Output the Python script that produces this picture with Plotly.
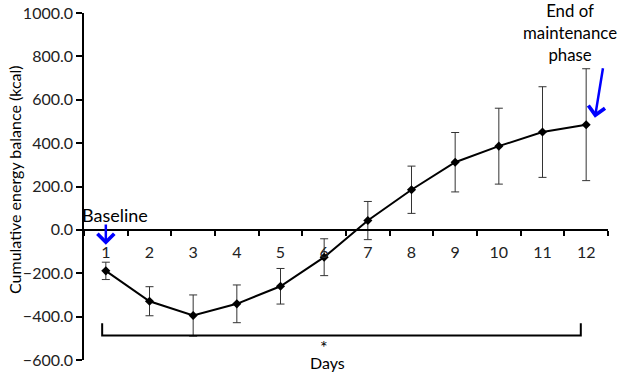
import plotly.graph_objects as go

days = list(range(1, 13))
day_labels = [str(d) for d in days]
balance = [-189, -329, -395, -341, -260, -126, 43, 185, 312, 386, 451, 485]
balance_sd = [40, 67, 95, 87, 82, 85, 88, 109, 137, 175, 209, 258]
y_ticks = [-600, -400, -200, 0, 200, 400, 600, 800, 1000]

FONT = "Lato"
fig = go.Figure()
fig.add_trace(go.Scatter(
    x=days, y=balance, mode="lines+markers",
    line=dict(color="black", width=2),
    marker=dict(symbol="diamond", size=7, color="black"),
    error_y=dict(type="data", array=balance_sd, visible=True,
                 color="#333333", thickness=1, width=4),
    showlegend=False, cliponaxis=False, hoverinfo="skip",
))

# significance bracket under days 1-12
fig.add_shape(type="path",
              path=f"M {days[0]-0.084},-431 L {days[0]-0.084},-487 L {days[-1]-0.123},-487 L {days[-1]-0.123},-431",
              xref="x", yref="y", line=dict(color="black", width=2))
fig.add_annotation(x=6.0, y=-538, text="*", showarrow=False, xref="x", yref="y",
                   font=dict(size=18, color="black", family=FONT))
fig.add_annotation(x=(327.5 - 84) / 524, y=(360 - 362) / 347, text="Days", showarrow=False,
                   xref="paper", yref="paper", xanchor="center", yanchor="middle",
                   font=dict(size=16, color="black", family=FONT))

# arrows
fig.add_annotation(x=days[0], y=-69, ax=days[0], ay=32, axref="x", ayref="y",
                   xref="x", yref="y", text="", showarrow=True, arrowhead=4,
                   arrowsize=1.3, arrowwidth=2.5, arrowcolor="#0000ff")
fig.add_annotation(x=1.2, y=69, text="Baseline", showarrow=False, xref="x", yref="y",
                   xanchor="center", yanchor="middle",
                   font=dict(size=18, color="black", family=FONT))
fig.add_annotation(x=12.2, y=517, ax=12.39, ay=752, axref="x", ayref="y",
                   xref="x", yref="y", text="", showarrow=True, arrowhead=4,
                   arrowsize=1.3, arrowwidth=2.5, arrowcolor="#0000ff")
fig.add_annotation(x=11.62, y=912, text="End of<br>maintenance<br>phase", showarrow=False,
                   xref="x", yref="y", xanchor="center", yanchor="middle",
                   font=dict(size=16.8, color="black", family=FONT))

fig.add_annotation(x=(14 - 84) / 524, y=(360 - 180) / 347, xref="paper", yref="paper",
                   text="Cumulative energy balance (kcal)", xanchor="center", yanchor="middle",
                   textangle=-90, showarrow=False, font=dict(size=16, color="black", family=FONT))

fig.update_layout(
    width=620, height=373,
    margin=dict(l=84, r=12, t=13, b=13),
    paper_bgcolor="white", plot_bgcolor="white",
    font=dict(family=FONT, size=16, color="black"),
    hovermode=False,
    xaxis=dict(range=[0.5, 12.5], tickmode="array", tickvals=days, ticktext=day_labels,
               ticks="", showline=True, linecolor="black", linewidth=1.5,
               showgrid=False, zeroline=False, anchor="free", position=0.375,
               ticklabelstandoff=8, automargin=False,
               minor=dict(tickmode="array", tickvals=[d + 0.5 for d in [0] + days],
                          ticks="outside", ticklen=5, tickwidth=1.5, tickcolor="black", showgrid=False),
               tickfont=dict(family=FONT, size=16, color="#222")),
    yaxis=dict(range=[-600, 1000], tickmode="array", tickvals=y_ticks, automargin=False,
               tickformat=".1f", ticks="outside", ticklen=6, tickwidth=1.5, tickcolor="black",
               showline=True, linecolor="black", linewidth=1.5, showgrid=False, zeroline=False,
               tickfont=dict(family=FONT, size=16, color="#222")),
)
fig.write_html("out.html", config={"displayModeBar": False},
               post_script="document.body.style.margin='0';document.body.style.padding='0';")
